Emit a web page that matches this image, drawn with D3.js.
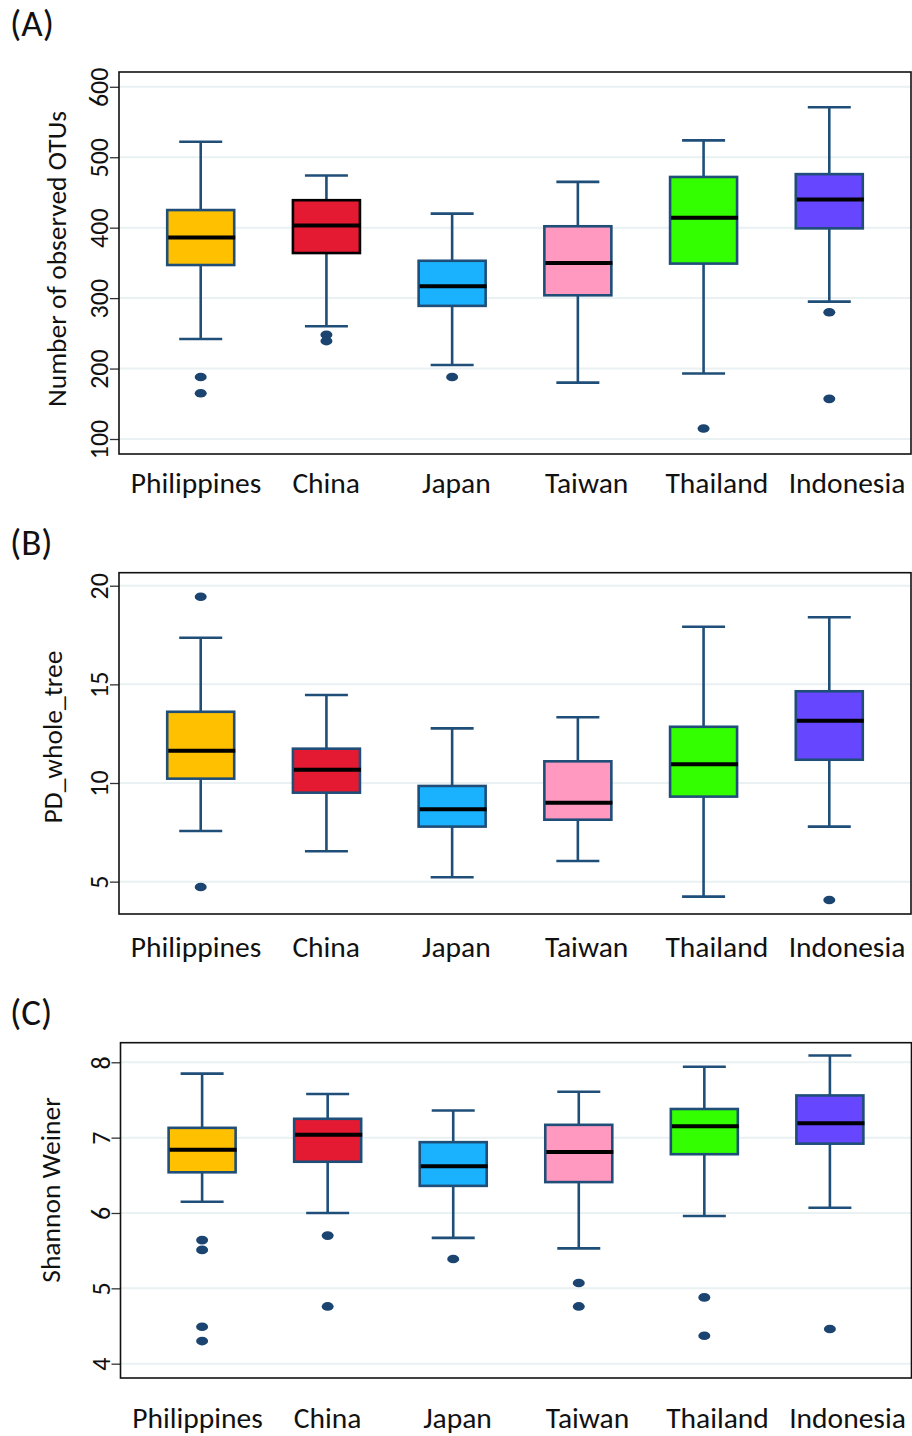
<!DOCTYPE html>
<html>
<head>
<meta charset="utf-8">
<script src="https://cdn.jsdelivr.net/npm/d3@7"></script>
<style>
  html, body { margin: 0; padding: 0; background: #fff; }
  svg { display: block; }
  text { font-family: Carlito, Lato, "Open Sans", sans-serif; fill: #111; }
</style>
</head>
<body>
<svg id="chart" width="912" height="1436"></svg>
<script>
// ---------- DATA ----------
const categories = ["Philippines", "China", "Japan", "Taiwan", "Thailand", "Indonesia"];
const boxColors = ["#FFC000", "#E41A32", "#1AB2FF", "#FF99C0", "#33FF00", "#6647FF"];

// (A) Number of observed OTUs
const otuUpper    = [522, 474, 420, 465, 524, 571];
const otuQ3       = [425, 439, 353, 402, 472, 476];
const otuMedian   = [386, 403, 317, 350, 414, 440];
const otuQ1       = [347, 364, 289, 304, 349, 399];
const otuLower    = [242, 260, 205, 180, 193, 295];
const otuOutliers = [[188, 165], [248, 239], [188], [], [115], [280, 157]];
const otuTicks    = [100, 200, 300, 400, 500, 600];

// (B) PD_whole_tree
const pdUpper    = [17.36, 14.46, 12.77, 13.33, 17.92, 18.40];
const pdQ3       = [13.61, 11.74, 9.85, 11.10, 12.85, 14.65];
const pdMedian   = [11.64, 10.67, 8.67, 9.00, 10.95, 13.16];
const pdQ1       = [10.22, 9.51, 7.79, 8.14, 9.31, 11.18];
const pdLower    = [7.57, 6.54, 5.22, 6.05, 4.24, 7.79];
const pdOutliers = [[19.44, 4.73], [], [], [], [], [4.07]];
const pdTicks    = [5, 10, 15, 20];

// (C) Shannon Weiner
const shUpper    = [7.85, 7.58, 7.36, 7.61, 7.94, 8.09];
const shQ3       = [7.13, 7.25, 6.94, 7.17, 7.38, 7.56];
const shMedian   = [6.84, 7.04, 6.62, 6.81, 7.15, 7.19];
const shQ1       = [6.54, 6.68, 6.36, 6.41, 6.78, 6.92];
const shLower    = [6.15, 6.00, 5.67, 5.53, 5.96, 6.07];
const shOutliers = [[5.64, 5.51, 4.49, 4.30], [5.70, 4.76], [5.39], [5.07, 4.76], [4.88, 4.37], [4.46]];
const shTicks    = [4, 5, 6, 7, 8];

// ---------- LAYOUT ----------
const svg = d3.select("#chart");
svg.append("rect").attr("width", 912).attr("height", 1436).attr("fill", "#fff");

const panels = [
  { label: "(A)", labelY: 36, title: "Number of observed OTUs", titleX: 57, titleY: 259,
    top: 72, bottom: 454, left: 119, right: 911, domain: [78.7, 621], ticks: otuTicks,
    upper: otuUpper, q3: otuQ3, median: otuMedian, q1: otuQ1, lower: otuLower, outliers: otuOutliers,
    xLabelY: 493, boxStroke: i => i === 1 ? "#000" : "#1F4E79" },
  { label: "(B)", labelY: 555, title: "PD_whole_tree", titleX: 53, titleY: 737,
    top: 572.7, bottom: 914, left: 119, right: 911, domain: [3.36, 20.66], ticks: pdTicks,
    upper: pdUpper, q3: pdQ3, median: pdMedian, q1: pdQ1, lower: pdLower, outliers: pdOutliers,
    xLabelY: 957, boxStroke: () => "#1F4E79" },
  { label: "(C)", labelY: 1025, title: "Shannon Weiner", titleX: 51, titleY: 1190,
    top: 1042.7, bottom: 1378, left: 120.5, right: 911.5, domain: [3.81, 8.26], ticks: shTicks,
    upper: shUpper, q3: shQ3, median: shMedian, q1: shQ1, lower: shLower, outliers: shOutliers,
    xLabelY: 1428, boxStroke: () => "#1F4E79" }
];

const lineColor = "#1F4E79";
const boxW = 67, capW = 43;

panels.forEach(p => {
  const g = svg.append("g");
  const x = d3.scalePoint().domain(categories).range([p.left, p.right]).padding(0.65);
  const xLab = d3.scalePoint().domain(categories).range([p.left + 77, p.right - 64]);
  const y = d3.scaleLinear().domain(p.domain).range([p.bottom, p.top]);

  // gridlines
  g.selectAll(".grid").data(p.ticks).join("line")
    .attr("x1", p.left).attr("x2", p.right)
    .attr("y1", d => y(d)).attr("y2", d => y(d))
    .attr("stroke", "#E9F1F3").attr("stroke-width", 2);

  // y axis ticks & rotated labels
  const axis = d3.axisLeft(y).tickValues(p.ticks).tickSize(9).tickFormat(d3.format("d"));
  const ag = g.append("g").attr("transform", `translate(${p.left},0)`).call(axis);
  ag.select(".domain").remove();
  ag.selectAll(".tick line").attr("stroke", "#333").attr("stroke-width", 1.3);
  ag.selectAll(".tick text")
    .attr("x", null).attr("dy", null)
    .attr("transform", "translate(-11,0) rotate(-90)")
    .attr("text-anchor", "middle")
    .attr("font-size", 26)
    .attr("font-family", "Carlito, Lato, sans-serif")
    .attr("fill", "#222");

  const idx = d3.range(categories.length);

  // whiskers
  g.selectAll(".whisk").data(idx).join("line")
    .attr("x1", i => x(categories[i])).attr("x2", i => x(categories[i]))
    .attr("y1", i => y(p.upper[i])).attr("y2", i => y(p.lower[i]))
    .attr("stroke", lineColor).attr("stroke-width", 2.6);
  ["upper", "lower"].forEach(k => {
    g.selectAll(".cap-" + k).data(idx).join("line")
      .attr("x1", i => x(categories[i]) - capW / 2).attr("x2", i => x(categories[i]) + capW / 2)
      .attr("y1", i => y(p[k][i])).attr("y2", i => y(p[k][i]))
      .attr("stroke", lineColor).attr("stroke-width", 2.6);
  });

  // boxes
  g.selectAll(".box").data(idx).join("rect")
    .attr("x", i => x(categories[i]) - boxW / 2)
    .attr("width", boxW)
    .attr("y", i => y(p.q3[i]))
    .attr("height", i => y(p.q1[i]) - y(p.q3[i]))
    .attr("fill", i => boxColors[i])
    .attr("stroke", i => p.boxStroke(i))
    .attr("stroke-width", 2.6);

  // medians
  g.selectAll(".med").data(idx).join("line")
    .attr("x1", i => x(categories[i]) - boxW / 2 + 1).attr("x2", i => x(categories[i]) + boxW / 2 + 1)
    .attr("y1", i => y(p.median[i])).attr("y2", i => y(p.median[i]))
    .attr("stroke", "#000").attr("stroke-width", 4);

  // outliers
  const outPts = idx.flatMap(i => p.outliers[i].map(v => ({ c: categories[i], v })));
  g.selectAll(".out").data(outPts).join("ellipse")
    .attr("cx", d => x(d.c)).attr("cy", d => y(d.v))
    .attr("rx", 6).attr("ry", 4.3)
    .attr("fill", "#1B4470");

  // frame
  g.append("rect")
    .attr("x", p.left).attr("y", p.top)
    .attr("width", p.right - p.left).attr("height", p.bottom - p.top)
    .attr("fill", "none").attr("stroke", "#111").attr("stroke-width", 1.6);

  // x labels
  g.selectAll(".xl").data(categories).join("text")
    .attr("x", d => xLab(d)).attr("y", p.xLabelY)
    .attr("text-anchor", "middle")
    .attr("font-size", 29.5)
    .text(d => d);

  // y title
  g.append("text")
    .attr("transform", `translate(${p.titleX + 9},${p.titleY}) rotate(-90)`)
    .attr("text-anchor", "middle")
    .attr("font-size", 27.5)
    .text(p.title);

  // panel label
  g.append("text")
    .attr("x", 10).attr("y", p.labelY)
    .attr("font-size", 37)
    .text(p.label);
});
</script>
</body>
</html>
